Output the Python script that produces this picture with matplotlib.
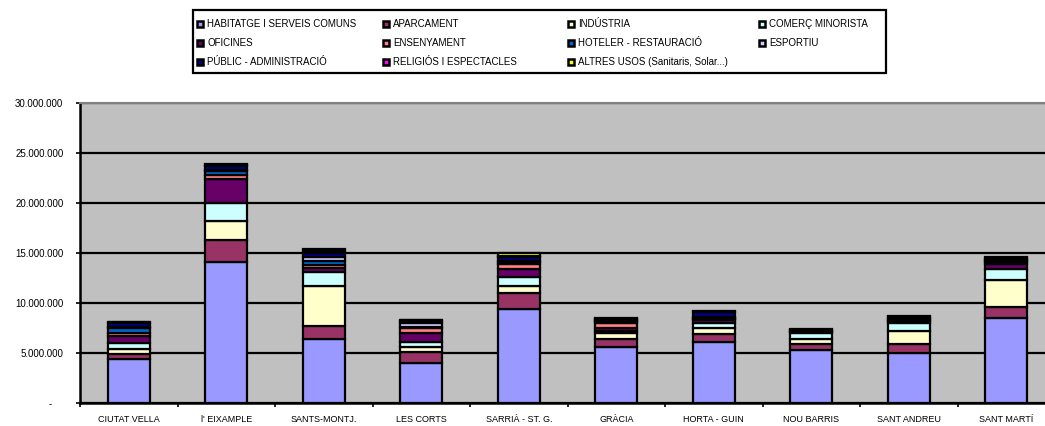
#!/usr/bin/env python3
# Stacked bars per district - surface by use (Barcelona), Excel-style look
import matplotlib
matplotlib.use("Agg")
import matplotlib.pyplot as plt
from matplotlib.patches import Rectangle
from matplotlib.ticker import FuncFormatter, FixedLocator

plt.rcParams["font.family"] = ["Liberation Sans", "DejaVu Sans"]

districts = ["CIUTAT VELLA", "l' EIXAMPLE", "SANTS-MONTJ.", "LES CORTS", "SARRIÀ - ST. G.",
             "GRÀCIA", "HORTA - GUIN", "NOU BARRIS", "SANT ANDREU", "SANT MARTÍ"]

uses = ["HABITATGE I SERVEIS COMUNS", "APARCAMENT", "INDÚSTRIA", "COMERÇ MINORISTA",
        "OFICINES", "ENSENYAMENT", "HOTELER - RESTAURACIÓ", "ESPORTIU",
        "PÚBLIC - ADMINISTRACIÓ", "RELIGIÓS I ESPECTACLES", "ALTRES USOS (Sanitaris, Solar...)"]

colors = ["#9999FF", "#993366", "#FFFFCC", "#CCFFFF", "#660066", "#FF8080",
          "#0066CC", "#CCCCFF", "#000080", "#FF00FF", "#FFFF00"]

# values in millions
habitatge   = [4.37, 14.13, 6.43, 4.03, 9.37, 5.60, 6.13, 5.33, 5.03, 8.53]
aparcament  = [0.50, 2.17, 1.30, 1.03, 1.60, 0.83, 0.77, 0.53, 0.83, 1.10]
industria   = [0.53, 1.90, 4.00, 0.57, 0.77, 0.57, 0.57, 0.57, 1.37, 2.67]
comerc      = [0.57, 1.83, 1.37, 0.50, 0.83, 0.20, 0.56, 0.60, 0.80, 1.07]
oficines    = [0.73, 2.33, 0.43, 0.83, 0.80, 0.30, 0.30, 0.10, 0.15, 0.56]
ensenyament = [0.33, 0.45, 0.30, 0.56, 0.57, 0.50, 0.10, 0.05, 0.10, 0.15]
hoteler     = [0.43, 0.35, 0.40, 0.10, 0.15, 0.10, 0.10, 0.05, 0.05, 0.10]
esportiu    = [0.10, 0.10, 0.34, 0.40, 0.10, 0.10, 0.10, 0.03, 0.05, 0.10]
public_adm  = [0.40, 0.45, 0.46, 0.20, 0.40, 0.15, 0.45, 0.05, 0.20, 0.20]
religios    = [0.10, 0.10, 0.20, 0.05, 0.12, 0.05, 0.05, 0.02, 0.05, 0.05]
altres      = [0.06, 0.10, 0.14, 0.08, 0.33, 0.07, 0.10, 0.03, 0.07, 0.10]

series = [habitatge, aparcament, industria, comerc, oficines, ensenyament,
          hoteler, esportiu, public_adm, religios, altres]

W, H = 1045, 426
fig = plt.figure(figsize=(W / 100, H / 100), dpi=100)
ax = fig.add_axes([80 / W, (H - 403) / H, 975 / W, 300 / H])
ax.set_facecolor("#C0C0C0")

x = list(range(len(districts)))
bottom = [0.0] * len(districts)
for vals, col in zip(series, colors):
    v = [a * 1e6 for a in vals]
    ax.bar(x, v, width=0.43, bottom=bottom, color=col, edgecolor="black",
           linewidth=1.6, zorder=3)
    bottom = [b + a for b, a in zip(bottom, v)]

ax.set_xlim(-0.5, len(districts) - 0.5)
ax.set_ylim(0, 30e6)
ax.set_yticks([0, 5e6, 10e6, 15e6, 20e6, 25e6, 30e6])


def fmt(v, pos):
    if v == 0:
        return "-    "
    return f"{v:,.0f}".replace(",", ".")


ax.yaxis.set_major_formatter(FuncFormatter(fmt))
ax.grid(axis="y", color="black", linewidth=1.6, zorder=1)
ax.tick_params(axis="y", length=3, width=1.2, labelsize=7, pad=9)

ax.set_xticks(x)
ax.set_xticklabels(districts, fontsize=6.5)
ax.xaxis.set_minor_locator(FixedLocator([i - 0.5 for i in range(len(districts) + 1)]))
ax.tick_params(axis="x", which="major", length=0, pad=9)
ax.tick_params(axis="x", which="minor", length=3, width=1.2)

for s in ["left", "bottom"]:
    ax.spines[s].set_linewidth(1.8)
    ax.spines[s].set_color("black")
ax.spines["top"].set_color("#808080")
ax.spines["top"].set_linewidth(1.5)
ax.spines["right"].set_visible(False)

# legend box, filled row by row like the original
fig.patches.append(Rectangle((193 / W, 1 - 73 / H), 693 / W, 63 / H,
                             transform=fig.transFigure, facecolor="white",
                             edgecolor="black", linewidth=1.6))
col_x = [200, 386, 571, 762]
row_y = [24, 43, 62]
for i, (name, col) in enumerate(zip(uses, colors)):
    r, c = divmod(i, 4)
    mx, my = col_x[c], row_y[r]
    fig.patches.append(Rectangle(((mx - 3) / W, 1 - (my + 3) / H), 6 / W, 6 / H,
                                 transform=fig.transFigure, facecolor=col,
                                 edgecolor="black", linewidth=1.8))
    fig.text((mx + 7) / W, 1 - my / H, name, fontsize=7, va="center", ha="left")

fig.savefig("out.png", dpi=100)
